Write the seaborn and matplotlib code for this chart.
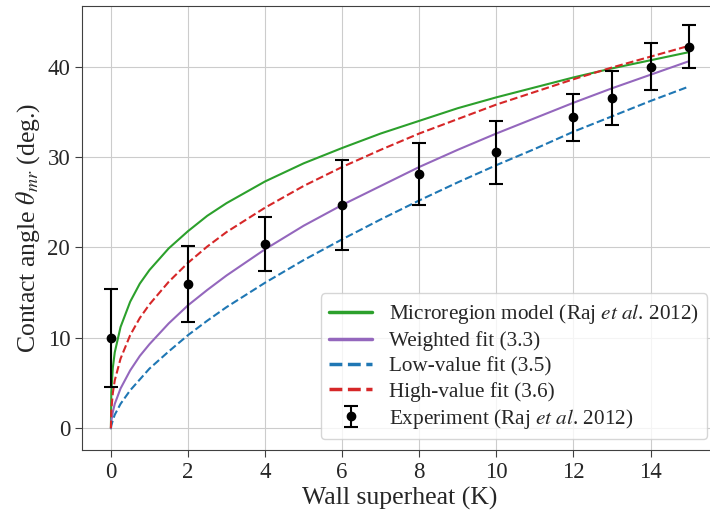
import numpy as np
import pandas as pd
import matplotlib
matplotlib.use("Agg")
import matplotlib.pyplot as plt
import seaborn as sns

# superheat grid used for the model curves (K)
dT = [0, 0.01, 0.05, 0.1, 0.25, 0.5, 0.75, 1, 1.5, 2, 2.5, 3, 4, 5, 6, 7, 8, 9, 10, 11, 12, 13, 14, 15]

# contact angle of each curve (deg.)
microregion = [0, 4.0, 6.7, 8.4, 11.2, 14.0, 16.0, 17.5, 19.9, 21.8, 23.5, 24.9, 27.3, 29.3, 31.0,
               32.6, 34.0, 35.4, 36.6, 37.7, 38.8, 39.8, 40.7, 41.6]
weighted = [0, 0.8, 1.8, 2.7, 4.4, 6.4, 8.0, 9.3, 11.6, 13.6, 15.3, 16.9, 19.8, 22.4, 24.7,
            26.8, 28.9, 30.8, 32.6, 34.3, 36.0, 37.6, 39.1, 40.6]
low_fit = [0, 0.3, 0.9, 1.5, 2.7, 4.2, 5.4, 6.6, 8.5, 10.3, 11.9, 13.4, 16.1, 18.6, 20.9,
           23.1, 25.2, 27.2, 29.1, 30.9, 32.8, 34.5, 36.2, 37.8]
high_fit = [0, 2.0, 3.9, 5.3, 7.7, 10.3, 12.2, 13.7, 16.2, 18.3, 20.1, 21.7, 24.4, 26.8, 28.9,
            30.8, 32.6, 34.2, 35.8, 37.2, 38.6, 39.9, 41.1, 42.3]

# experiment (Raj et al. 2012)
exp_dT = [0, 2, 4, 6, 8, 10, 12, 13, 14, 15]
exp_theta = [10.0, 16.0, 20.4, 24.7, 28.1, 30.5, 34.4, 36.5, 40.0, 42.2]
exp_err = [5.4, 4.2, 3.0, 5.0, 3.4, 3.5, 2.6, 3.0, 2.6, 2.4]

sns.set_style("whitegrid", {"grid.color": "#cccccc", "axes.edgecolor": "#404040",
                            "xtick.bottom": True, "ytick.left": True})
plt.rcParams["font.family"] = ["Liberation Serif", "DejaVu Serif"]
plt.rcParams["mathtext.fontset"] = "stix"

curves = pd.DataFrame({"dT": dT, "micro": microregion, "weighted": weighted,
                       "low": low_fit, "high": high_fit})

fig = plt.figure(figsize=(7.1, 5.11), dpi=100)
ax = fig.add_axes([82 / 710, 1 - 450 / 511, 636 / 710, 444 / 511])

sns.lineplot(data=curves, x="dT", y="micro", color="#2ca02c", lw=1.5, ax=ax,
             label=r"Microregion model (Raj $\mathit{et\ al}$. 2012)")
sns.lineplot(data=curves, x="dT", y="weighted", color="#9467bd", lw=1.5, ax=ax,
             label="Weighted fit (3.3)")
sns.lineplot(data=curves, x="dT", y="low", color="#1f77b4", lw=1.5, ls="--", ax=ax,
             label="Low-value fit (3.5)")
sns.lineplot(data=curves, x="dT", y="high", color="#d62728", lw=1.5, ls="--", ax=ax,
             label="High-value fit (3.6)")
ax.errorbar(exp_dT, exp_theta, yerr=exp_err, fmt="o", color="black", ms=6,
            elinewidth=1.5, capsize=5, capthick=1.5, zorder=5,
            label=r"Experiment (Raj $\mathit{et\ al}$. 2012)")

ax.set_xlim(-0.75, 15.75)
ax.set_ylim(-2.4, 46.7)
ax.set_xticks([0, 2, 4, 6, 8, 10, 12, 14])
ax.set_yticks([0, 10, 20, 30, 40])
ax.tick_params(labelsize=16.5, length=5, color="#404040")
ax.set_xlabel("Wall superheat (K)", fontsize=18.5, labelpad=3)
ax.set_ylabel(r"Contact angle $\theta_{mr}$ (deg.)", fontsize=18.5)

leg = ax.legend(loc="lower right", fontsize=15.3, frameon=True, handlelength=2.0,
                labelspacing=0.25, borderpad=0.4)
for h in leg.get_lines():
    h.set_linewidth(2.5)

fig.savefig("out.png", dpi=100)
